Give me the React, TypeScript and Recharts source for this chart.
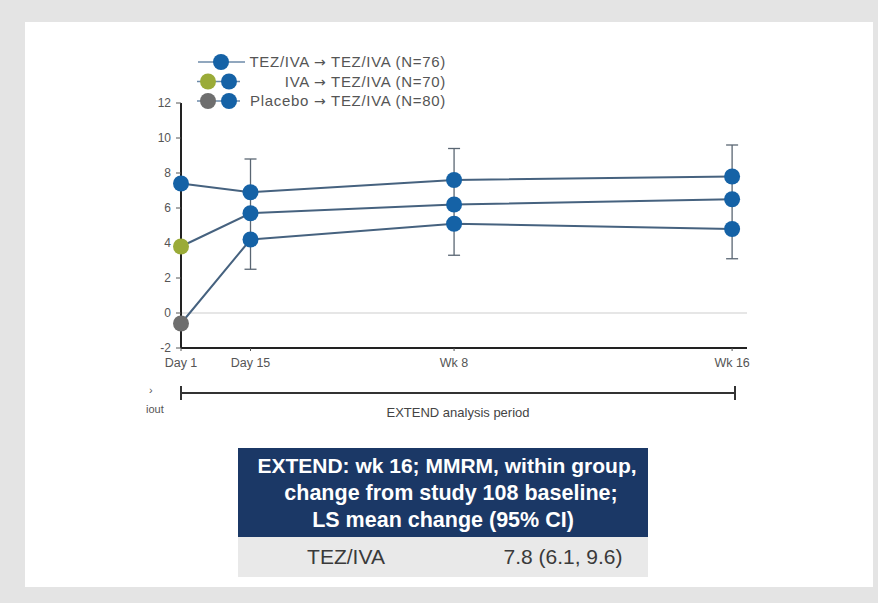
import React from 'react';
import { LineChart, Line, XAxis, YAxis, ReferenceLine, ErrorBar } from 'recharts';

// study visits, in days from the start of EXTEND
const visitDays = [1, 15, 56, 112];
const visitLabels = ['Day 1', 'Day 15', 'Wk 8', 'Wk 16'];
const yTicks = [-2, 0, 2, 4, 6, 8, 10, 12];

const tezTez = [7.4, 6.9, 7.6, 7.8];
const ivaTez = [3.8, 5.7, 6.2, 6.5];
const pboTez = [-0.6, 4.2, 5.1, 4.8];
// whisker ends (top of the upper series, bottom of the lower one)
const tezTezUpper = [7.4, 8.8, 9.4, 9.6];
const pboTezLower = [-0.6, 2.5, 3.3, 3.1];

const legendItems = [
  { label: 'TEZ/IVA \u2192 TEZ/IVA (N=76)', first: '#1562a6' },
  { label: 'IVA \u2192 TEZ/IVA (N=70)', first: '#9aab38' },
  { label: 'Placebo \u2192 TEZ/IVA (N=80)', first: '#6e6e6e' },
];

const BLUE = '#1562a6';
const LINE = '#46627f';
const FONT = '"Liberation Sans", Arial, sans-serif';

const data = visitDays.map((day, i) => ({
  day,
  tezTez: tezTez[i],
  ivaTez: ivaTez[i],
  pboTez: pboTez[i],
  tezErr: [0, tezTezUpper[i] - tezTez[i]],
  ivaErr: i === 0 ? [0, 0] : [ivaTez[i] - pboTez[i], tezTez[i] - ivaTez[i]],
  pboErr: [pboTez[i] - pboTezLower[i], 0],
}));

const makeDot = (firstColor: string) => (props: any) => {
  const { cx, cy, index } = props;
  return <circle key={index} cx={cx} cy={cy} r={8} fill={index === 0 ? firstColor : BLUE} />;
};

const XTick = (props: any) => {
  const { x, y, payload } = props;
  const i = visitDays.indexOf(payload.value);
  return (
    <text x={x} y={y + 14} textAnchor="middle" fontSize={12.5} fill="#555" fontFamily={FONT}>
      {visitLabels[i]}
    </text>
  );
};

export default function App() {
  return (
    <div style={{ position: 'absolute', left: 0, top: 0, width: 878, height: 603, background: '#e4e4e4', fontFamily: FONT }}>
      <div style={{ position: 'absolute', left: 25, top: 22, width: 848, height: 565, background: '#fff' }} />
      <div style={{ position: 'absolute', left: 0, top: 0 }}>
        <LineChart width={878} height={380} data={data} margin={{ top: 103, right: 131, left: 151, bottom: 12 }}>
          <XAxis
            dataKey="day"
            type="number"
            domain={[1, 115]}
            ticks={visitDays}
            height={20}
            tick={<XTick />}
            tickSize={3}
            axisLine={{ stroke: '#222', strokeWidth: 2 }}
            tickLine={{ stroke: '#555' }}
          />
          <YAxis
            type="number"
            domain={[-2, 12]}
            ticks={yTicks}
            width={30}
            tickSize={5}
            tickMargin={5}
            interval={0}
            axisLine={{ stroke: '#222', strokeWidth: 2 }}
            tickLine={{ stroke: '#555' }}
            tick={{ fontSize: 12, fill: '#555', fontFamily: FONT }}
          />
          <ReferenceLine y={0} stroke="#dedede" strokeWidth={1.5} />
          <Line dataKey="pboTez" stroke={LINE} strokeWidth={2} dot={makeDot('#6e6e6e')} isAnimationActive={false}>
            <ErrorBar dataKey="pboErr" direction="y" width={6} stroke="#5a6673" strokeWidth={1.3} />
          </Line>
          <Line dataKey="ivaTez" stroke={LINE} strokeWidth={2} dot={makeDot('#9aab38')} isAnimationActive={false}>
            <ErrorBar dataKey="ivaErr" direction="y" width={6} stroke="#5a6673" strokeWidth={1.3} />
          </Line>
          <Line dataKey="tezTez" stroke={LINE} strokeWidth={2} dot={makeDot(BLUE)} isAnimationActive={false}>
            <ErrorBar dataKey="tezErr" direction="y" width={6} stroke="#5a6673" strokeWidth={1.3} />
          </Line>
        </LineChart>
      </div>

      <svg width={878} height={603} style={{ position: 'absolute', left: 0, top: 0, pointerEvents: 'none' }}>
        {/* legend */}
        {legendItems.map((item, i) => {
          const y = 62 + i * 19.5;
          return (
            <g key={item.label}>
              <line x1={i === 0 ? 198 : 197} x2={i === 0 ? 245 : 240} y1={y} y2={y} stroke="#6c8aa8" strokeWidth={1.5} />
              {i === 0 ? (
                <circle cx={221} cy={y} r={8} fill={BLUE} />
              ) : (
                <>
                  <circle cx={208} cy={y} r={8} fill={item.first} />
                  <circle cx={229} cy={y} r={8} fill={BLUE} />
                </>
              )}
              <text x={446} y={y + 5} textAnchor="end" fontSize={15} letterSpacing={0.7} fill="#555" fontFamily={FONT}>
                {item.label.split('\u2192')[0]}
                <tspan fontFamily='"DejaVu Sans", sans-serif' fontSize={14}>{'\u2192'}</tspan>
                {item.label.split('\u2192')[1]}
              </text>
            </g>
          );
        })}

        {/* cut-off fragments at left */}
        <text x={149} y={394} fontSize={11} fill="#555" fontFamily={FONT}>{'\u203A'}</text>
        <text x={146} y={413} fontSize={11} fill="#555" fontFamily={FONT}>iout</text>

        {/* analysis period bracket */}
        <line x1={181} x2={735} y1={393} y2={393} stroke="#333" strokeWidth={2} />
        <line x1={181} x2={181} y1={386} y2={400} stroke="#333" strokeWidth={2} />
        <line x1={735} x2={735} y1={386} y2={400} stroke="#333" strokeWidth={2} />
        <text x={458} y={417} textAnchor="middle" fontSize={13} fill="#444" fontFamily={FONT}>
          EXTEND analysis period
        </text>
      </svg>

      {/* summary table */}
      <div
        style={{
          position: 'absolute', left: 238, top: 448, width: 410, height: 89, background: '#1b3866',
          color: '#fff', fontWeight: 'bold', fontSize: 21.5, lineHeight: '27.5px', textAlign: 'center',
          paddingTop: 4, boxSizing: 'border-box', whiteSpace: 'nowrap',
        }}
      >
        <div style={{ fontSize: 21, paddingLeft: 8 }}>EXTEND: wk 16; MMRM, within group,</div>
        <div style={{ paddingLeft: 16 }}>change from study 108 baseline;</div>
        <div>LS mean change (95% CI)</div>
      </div>
      <div style={{ position: 'absolute', left: 238, top: 537, width: 410, height: 40, background: '#e9e9e9', color: '#3a3a3a', fontSize: 21 }}>
        <div style={{ position: 'absolute', left: 108, top: 8, width: 0, display: 'flex', justifyContent: 'center', whiteSpace: 'nowrap' }}>TEZ/IVA</div>
        <div style={{ position: 'absolute', left: 325, top: 8, width: 0, display: 'flex', justifyContent: 'center', whiteSpace: 'nowrap' }}>7.8 (6.1, 9.6)</div>
      </div>
    </div>
  );
}
